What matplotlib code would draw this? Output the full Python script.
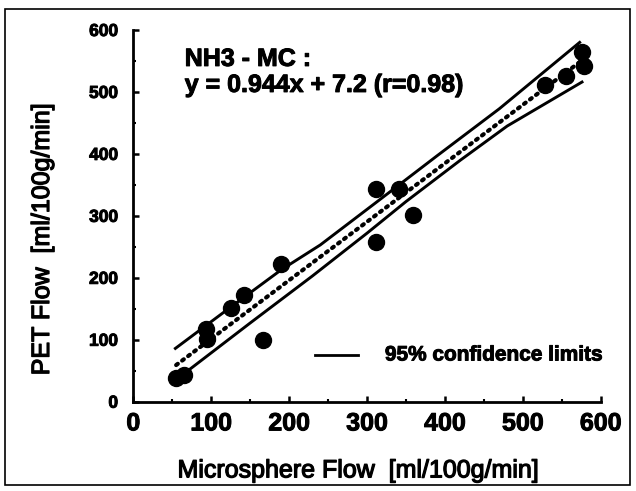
import numpy as np
import matplotlib.pyplot as plt
from matplotlib.ticker import MultipleLocator
from matplotlib.patches import Rectangle
import matplotlib.patheffects as pe

# measured points (microsphere vs PET flow)
mc_flow = [55, 65, 93, 94, 126, 142, 167, 189, 311, 312, 341, 359, 528, 555, 576, 579]
pet_flow = [39, 43, 117, 102, 151, 172, 99, 223, 344, 258, 343, 301, 512, 525, 565, 542]

# regression y = 0.944x + 7.2
slope = 0.944
intercept = 7.2
fit_range = [55, 575]

# 95% confidence limits
upper_x = [54, 120, 190, 240, 310, 390, 470, 573]
upper_y = [86, 148, 213, 253, 320, 397, 473, 580]
lower_x = [68, 150, 230, 300, 350, 420, 480, 576]
lower_y = [48, 127, 203, 272, 323, 390, 445, 516]

xticks = [0, 100, 200, 300, 400, 500, 600]
yticks = [0, 100, 200, 300, 400, 500, 600]

plt.rcParams['font.family'] = ['Liberation Sans', 'DejaVu Sans']
thick = [pe.withStroke(linewidth=0.7, foreground='black')]

fig = plt.figure(figsize=(6.36, 4.91), dpi=100)
ax = fig.add_axes([0.2096, 0.1819, 0.7349, 0.757])

fx = np.array(fit_range)
ax.plot(fx, slope*fx+intercept, color='black', lw=3.0, linestyle=(0, (0.5, 1.3)),
	dash_capstyle='round', zorder=2)
ax.plot(upper_x, upper_y, color='black', lw=2.1, zorder=2)
ax.plot(lower_x, lower_y, color='black', lw=2.1, zorder=2)
ax.plot(mc_flow, pet_flow, 'o', color='black', ms=11.5, zorder=3)

# legend entry drawn by hand
ax.plot([233, 289], [75.4, 75.4], color='black', lw=2.0, clip_on=False)
ax.text(323, 75.4, "95% confidence limits", fontsize=15, fontweight='bold',
	va='center', ha='left', clip_on=False, path_effects=thick)

ax.text(66, 542, "NH3 - MC :", fontsize=18, fontweight='bold', va='baseline', path_effects=thick)
ax.text(66, 500, "y = 0.944x + 7.2 (r=0.98)", fontsize=18, fontweight='bold',
	va='baseline', path_effects=thick)

ax.set_xlim(0, 600)
ax.set_ylim(0, 600)
ax.set_xticks(xticks)
ax.set_yticks(yticks)
ax.xaxis.set_minor_locator(MultipleLocator(50))
ax.yaxis.set_minor_locator(MultipleLocator(50))
for s in ['top', 'right']:
	ax.spines[s].set_visible(False)
for s in ['left', 'bottom']:
	ax.spines[s].set_linewidth(2.0)
ax.tick_params(which='major', direction='in', length=4.5, width=1.8)
ax.tick_params(which='minor', direction='in', length=2.5, width=1.5)
ax.tick_params(axis='y', which='major', pad=11)
ax.tick_params(axis='x', which='major', pad=7)
for lab in ax.get_yticklabels():
	lab.set_fontsize(12.5)
	lab.set_fontweight('bold')
	lab.set_path_effects(thick)
for lab in ax.get_xticklabels():
	lab.set_fontsize(18)
	lab.set_fontweight('bold')
	lab.set_path_effects(thick)

fig.text(358/636, 0.0277, "Microsphere Flow  [ml/100g/min]", fontsize=18,
	ha='center', va='baseline', path_effects=[pe.withStroke(linewidth=0.9, foreground='black')])
fig.text(42/636, 1-239.5/491, "PET Flow  [ml/100g/min]", fontsize=18,
	rotation=90, ha='center', va='center',
	path_effects=[pe.withStroke(linewidth=0.9, foreground='black')])

fig.patches.append(Rectangle((0.008, 0.012), 0.982, 0.97, transform=fig.transFigure,
	fill=False, edgecolor='black', lw=1.2))

plt.savefig("out.png", dpi=100)
